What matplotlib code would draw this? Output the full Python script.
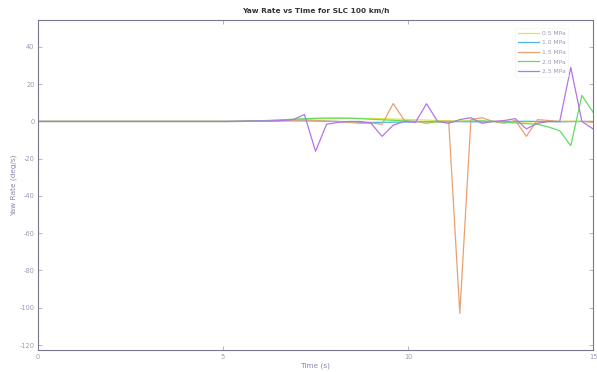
import numpy as np
import matplotlib
matplotlib.use('Agg')
import matplotlib.pyplot as plt

# tiempo de muestreo 0.3 s, de 0 a 15 s
t = np.round(np.arange(0, 15.01, 0.3), 2)

labels = ['0.5 MPa', '1.0 MPa', '1.5 MPa', '2.0 MPa', '2.5 MPa']
colors = ['#e4e44c', '#4cb4e4', '#eaa070', '#62dc62', '#b474e6']

# valores (deg/s)
yaw_05 = [0]*18 + [0.1, 0.2, 0.3, 0.5, 0.7, 0.9, 1.1, 1.3, 1.5, 1.6, 1.7, 1.7, 1.6,
                   1.5, 1.3, 1.1, 0.9, 0.7, 0.5, 0.4, 0.3, 0.2, 0.1, 0.0, -0.2, -0.3, -0.3,
                   -0.2, -0.1, 0.0, 0.1, 0.0, 0.0]
yaw_10 = [0]*18 + [0.0, 0.1, 0.1, 0.2, 0.3, 0.3, 0.3, 0.2, 0.1, 0.0, -0.2, -0.4, -0.5,
                   -0.5, -0.4, -0.3, -0.2, -0.1, 0.0, 0.0, -0.1, -0.2, -0.2, -0.1, 0.0, 0.0, 0.1,
                   0.0, -0.1, -0.2, -0.1, 0.0, 0.0]
yaw_15 = [0]*18 + [0.0, 0.1, 0.2, 0.3, 0.5, 0.7, 0.8, 0.5, 0.2, 0.0, -0.5, -1.0, -0.8,
                   -1.5, 9.6, 0.5, 0.0, -1.0, 0.0, 0.0, -103.0, 1.0, 2.0, 0.0, -1.0, 0.5, -8.0,
                   1.0, 0.5, 0.0, 0.0, 0.0, -0.5]
yaw_20 = [0]*18 + [0.1, 0.2, 0.4, 0.6, 0.9, 1.2, 1.5, 1.7, 1.8, 1.8, 1.7, 1.5, 1.2,
                   0.9, 0.6, 0.3, 0.0, -0.2, -0.3, -0.2, 0.0, 0.2, 0.3, 0.1, -0.3, -0.8, -1.2,
                   -1.5, -3.0, -5.0, -13.0, 14.0, 5.0]
yaw_25 = [0]*18 + [0.1, 0.2, 0.3, 0.3, 0.5, 1.0, 3.7, -16.0, -1.5, -0.5, 0.0, 0.0, -1.0,
                   -8.0, -2.0, 0.0, -0.5, 9.5, 0.0, -1.0, 1.0, 2.0, -1.0, 0.0, 0.5, 1.5, -4.0,
                   -1.0, 0.0, 0.0, 29.0, 0.0, -4.0]
series = [yaw_05, yaw_10, yaw_15, yaw_20, yaw_25]

plt.rcParams['axes.unicode_minus'] = False

fig = plt.figure(figsize=(5.97, 3.72), dpi=100)
ax = fig.add_axes([0.0637, 0.059, 0.9296, 0.887])

for y, c, lab in zip(series, colors, labels):
  ax.plot(t, y, color=c, lw=0.9, label=lab)

ax.set_xlim(0, 15)
ax.set_ylim(-122.7, 54.4)
ax.set_xticks([0, 5, 10, 15])
ax.set_yticks(np.arange(-120, 41, 20))
ax.tick_params(direction='in', length=3, width=0.5, colors='#999999',
               labelsize=4.8, labelcolor='#9a9ab4', top=True, right=True, pad=2.5)
for s in ax.spines.values():
  s.set_color('#777790')
  s.set_linewidth(0.8)

ax.set_title('Yaw Rate vs Time for SLC 100 km/h', fontsize=5.3, fontweight='bold',
             color='#333333', pad=5)
ax.set_xlabel('Time (s)', fontsize=5.3, color='#8888a8', labelpad=2)
ax.set_ylabel('Yaw Rate (deg/s)', fontsize=5.3, color='#8888a8', labelpad=2)

leg = ax.legend(loc='upper right', bbox_to_anchor=(0.96, 0.985), fontsize=4.3,
                frameon=True, handlelength=3.6, handletextpad=0.4, labelspacing=0.75)
leg.get_frame().set_edgecolor('#eeeeee')
leg.get_frame().set_linewidth(0.4)
for txt in leg.get_texts():
  txt.set_color('#9a9ab4')

fig.savefig('out.png', dpi=100)
